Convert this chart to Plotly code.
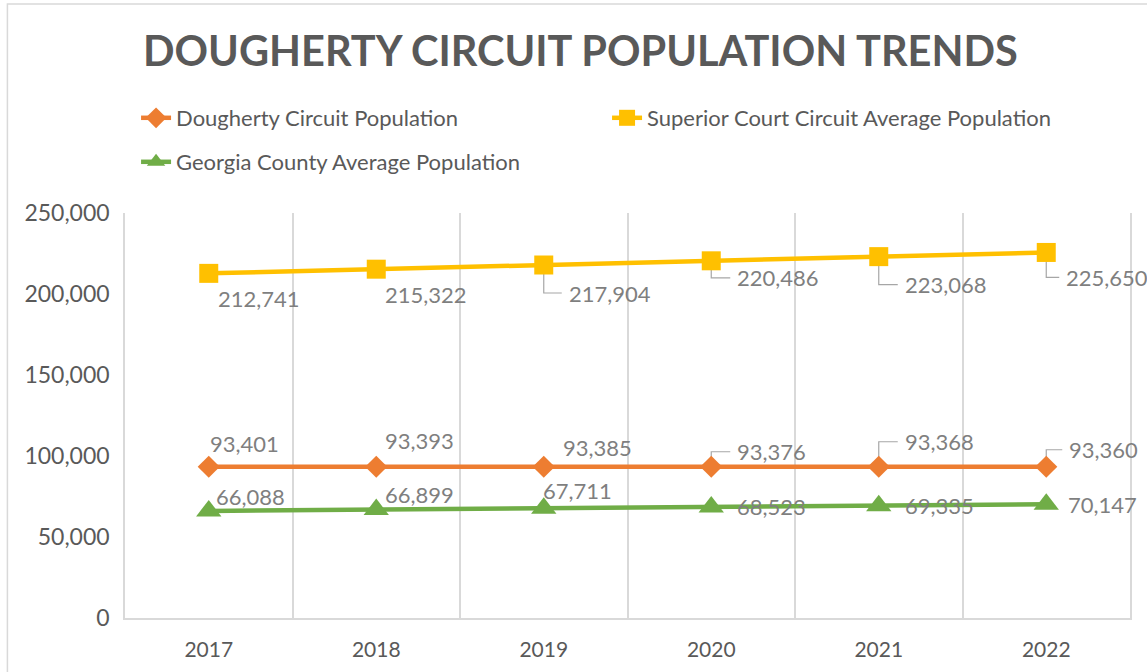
import plotly.graph_objects as go

years = [2017, 2018, 2019, 2020, 2021, 2022]
dougherty = [93401, 93393, 93385, 93376, 93368, 93360]
superior = [212741, 215322, 217904, 220486, 223068, 225650]
georgia = [66088, 66899, 67711, 68523, 69335, 70147]

names = ["Dougherty Circuit Population",
         "Superior Court Circuit Average Population",
         "Georgia County Average Population"]
colors = ["#ED7D31", "#FFC000", "#70AD47"]
symbols = ["diamond", "square", "triangle-up"]
msizes = [17, 19, 22]
legends = ["legend", "legend", "legend2"]
series = [dougherty, superior, georgia]

# label offsets in pixels (dx, dy) per series per point
offsets = [
    [(0, -23), (8, -26), (18, -19), (25, -15), (25, -25), (22, -17)],
    [(8, 25), (8, 25), (24, 28), (25, 17), (25, 28), (19, 25)],
    [(6, -14), (8, -15), (-2, -18), (25, 0), (25, 0), (21, 0)],
]
# which labels have leader lines (series index, point index)
leaders = [(1, 2), (1, 3), (1, 4), (1, 5), (0, 3), (0, 4), (0, 5)]

FONT = "Lato"
TXT = "#595959"
LBL = "#7F7F7F"
GRID = "#D9D9D9"

W, H = 1147, 672
ML, MR, MT, MB = 125, 17, 213, 54
YMAX = 250000
px_per_year = (W - ML - MR) / len(years)
data_per_px_y = YMAX / (H - MT - MB)

fig = go.Figure()

# leader lines (elbow), derived from data values and label offsets
lx, ly = [], []
for si, pi in leaders:
    x0 = years[pi]
    v = series[si][pi]
    dx, dy = offsets[si][pi]
    sign = 1 if dy > 0 else -1
    y_start = v - sign * 9 * data_per_px_y
    y_lab = v - dy * data_per_px_y
    x_end = x0 + (dx - 6) / px_per_year
    lx += [x0, x0, x_end, None]
    ly += [y_start, y_lab, y_lab, None]
fig.add_trace(go.Scatter(x=lx, y=ly, mode="lines", showlegend=False,
                         hoverinfo="skip", line=dict(color="#A6A6A6", width=1.2)))

for name, vals, c, s, ms, lg in zip(names, series, colors, symbols, msizes, legends):
    fig.add_trace(go.Scatter(
        x=years, y=vals, name=name, mode="lines+markers", legend=lg,
        line=dict(color=c, width=4.5),
        marker=dict(symbol=s, size=ms, color=c),
    ))

annotations = []
for vals, offs in zip(series, offsets):
    for x, v, (dx, dy) in zip(years, vals, offs):
        annotations.append(dict(
            x=x, y=v, xref="x", yref="y", text=f"{v:,}", showarrow=False,
            xanchor="left", yanchor="middle", xshift=dx, yshift=-dy,
            borderpad=0,
            font=dict(family=FONT, size=22, color=LBL),
        ))

minor_vals = [y - 0.5 for y in years] + [years[-1] + 0.5]

legend_common = dict(orientation="h", xanchor="left", yanchor="middle",
                     entrywidth=426, entrywidthmode="pixels",
                     font=dict(family=FONT, size=22, color=TXT),
                     itemwidth=30, bgcolor="rgba(0,0,0,0)")

fig.update_layout(
    width=W, height=H,
    margin=dict(l=ML, r=MR, t=MT, b=MB),
    paper_bgcolor="white", plot_bgcolor="white",
    title=dict(text="<b>DOUGHERTY CIRCUIT POPULATION TRENDS</b>",
               x=0.506, xanchor="center", y=0.923, yanchor="middle",
               font=dict(family=FONT, size=41.5, color=TXT)),
    showlegend=True,
    legend=dict(x=0.011, y=1 + (MT - 118) / (H - MT - MB), **legend_common),
    legend2=dict(x=0.011, y=1 + (MT - 162) / (H - MT - MB), **legend_common),
    annotations=annotations,
    shapes=[dict(type="rect", xref="paper", yref="paper",
                 x0=-0.117, x1=1.05, y0=-0.3, y1=1.516,
                 line=dict(color=GRID, width=1.5), fillcolor="rgba(0,0,0,0)",
                 layer="below")],
)

fig.update_xaxes(
    range=[years[0] - 0.5, years[-1] + 0.5],
    tickvals=years, ticktext=[str(y) for y in years],
    showgrid=False, zeroline=False,
    showline=True, linecolor=GRID, linewidth=1.5,
    ticks="", ticklabelstandoff=12,
    tickfont=dict(family=FONT, size=21, color=TXT),
    minor=dict(tickvals=minor_vals, showgrid=True, gridcolor=GRID, gridwidth=1.5, ticks=""),
)
fig.update_yaxes(
    range=[0, YMAX], tickvals=[0, 50000, 100000, 150000, 200000, 250000],
    tickformat=",d", showgrid=False, zeroline=False,
    showline=True, mirror=True, linecolor=GRID, linewidth=1.5,
    ticks="", ticklabelstandoff=9,
    tickfont=dict(family=FONT, size=23, color=TXT),
)

fig.write_html("out.html", config={"displayModeBar": False},
               post_script="document.body.style.margin='0';")
